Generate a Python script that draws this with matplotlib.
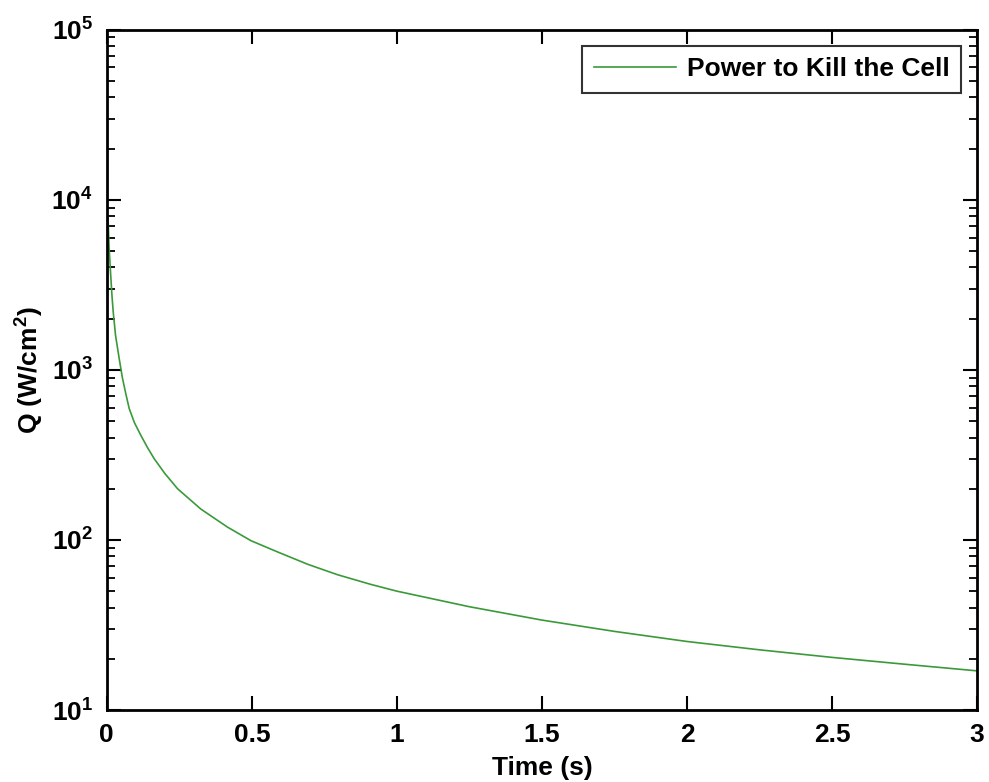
import matplotlib
matplotlib.use("Agg")
import matplotlib.pyplot as plt
from matplotlib.ticker import LogLocator, NullFormatter, FixedLocator

# values
time_s = [0.004, 0.008, 0.013, 0.018, 0.022, 0.03, 0.0425, 0.054, 0.065, 0.077,
          0.095, 0.117, 0.14, 0.163, 0.2, 0.244, 0.324, 0.416, 0.497, 0.589,
          0.692, 0.795, 0.91, 1.0, 1.25, 1.5, 1.75, 2.0, 2.25, 2.5,
          2.75, 3.0]
power_q = [8000, 5200, 3700, 2700, 2200, 1600, 1170, 893, 730, 594,
           490, 413, 350, 301, 246, 200, 152, 119, 99, 85,
           72, 62.5, 54.8, 50, 40.5, 33.8, 29, 25.3, 22.6, 20.4,
           18.6, 17.0]
x_ticks = [0, 0.5, 1, 1.5, 2, 2.5, 3]
x_tick_labels = ["0", "0.5", "1", "1.5", "2", "2.5", "3"]
y_ticks = [1e1, 1e2, 1e3, 1e4, 1e5]
y_tick_labels = [r"$10^{1}$", r"$10^{2}$", r"$10^{3}$", r"$10^{4}$", r"$10^{5}$"]
legend_label = "Power to Kill the Cell"

plt.rcParams["font.family"] = ["Liberation Sans", "DejaVu Sans"]
plt.rcParams["font.weight"] = "bold"
plt.rcParams["mathtext.fontset"] = "custom"
plt.rcParams["mathtext.rm"] = "Liberation Sans:bold"
plt.rcParams["mathtext.bf"] = "Liberation Sans:bold"
plt.rcParams["mathtext.default"] = "rm"

fig = plt.figure(figsize=(9.89, 7.82), dpi=100)
ax = fig.add_axes([0.108, 0.092, 0.880, 0.870])

ax.plot(time_s, power_q, color="#3a9a3a", linewidth=1.2, label=legend_label)

ax.set_yscale("log")
ax.set_xlim(0, 3)
ax.set_ylim(1e1, 1e5)

ax.xaxis.set_major_locator(FixedLocator(x_ticks))
ax.set_xticklabels(x_tick_labels)
ax.yaxis.set_major_locator(FixedLocator(y_ticks))
ax.set_yticklabels(y_tick_labels)
ax.yaxis.set_minor_locator(LogLocator(base=10, subs=range(2, 10)))
ax.yaxis.set_minor_formatter(NullFormatter())

ax.tick_params(axis="both", which="major", direction="in", length=10, width=1.5,
               top=True, right=True, labelsize=19)
ax.tick_params(axis="x", which="major", pad=9)
ax.tick_params(axis="y", which="major", pad=10)
ax.tick_params(axis="y", which="minor", direction="in", length=6, width=1.3,
               left=True, right=True)
for s in ax.spines.values():
    s.set_linewidth(2)

ax.set_xlabel("Time (s)", fontsize=19, fontweight="bold", labelpad=7)
ax.set_ylabel(r"Q (W/cm$^{2}$)", fontsize=19, fontweight="bold", labelpad=4)

leg = ax.legend(loc="upper right", fontsize=19, frameon=True, fancybox=False,
                handlelength=3.1, handletextpad=0.4, borderaxespad=0.6,
                borderpad=0.45)
leg.get_frame().set_edgecolor("black")
leg.get_frame().set_linewidth(1.5)

fig.savefig("out.png", dpi=100)
